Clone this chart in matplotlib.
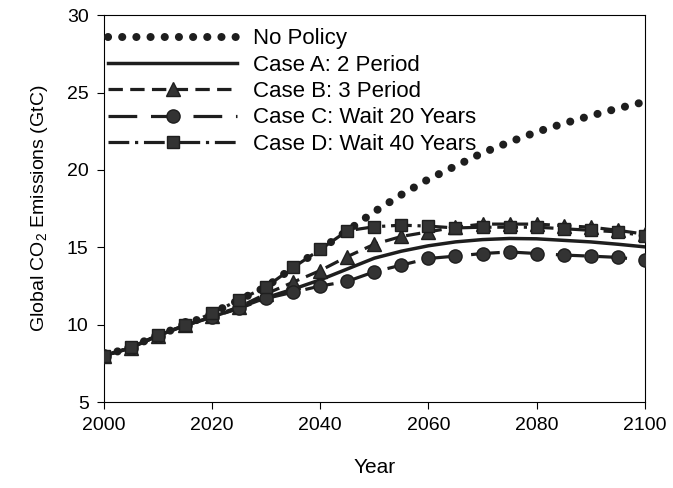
import matplotlib
matplotlib.use("Agg")
import matplotlib.pyplot as plt

plt.rcParams['font.family'] = ['Liberation Sans', 'DejaVu Sans']
plt.rcParams['mathtext.default'] = 'regular'

# years with 5-year steps
years = list(range(2000, 2101, 5))

no_policy = [8.0, 8.55, 9.33, 9.97, 10.75, 11.6, 12.45, 13.7, 14.86, 16.07, 17.3,
             18.4, 19.4, 20.25, 21.1, 21.8, 22.45, 23.0, 23.5, 23.97, 24.4]
case_a = [8.0, 8.5, 9.3, 9.95, 10.5, 11.1, 11.75, 12.3, 12.9, 13.6, 14.3,
          14.75, 15.1, 15.35, 15.5, 15.57, 15.55, 15.45, 15.35, 15.2, 15.03]
case_b = [8.0, 8.5, 9.3, 9.95, 10.55, 11.15, 12.0, 12.75, 13.5, 14.4, 15.2,
          15.7, 16.0, 16.3, 16.5, 16.5, 16.5, 16.4, 16.3, 16.1, 15.85]
case_c = [8.0, 8.5, 9.3, 9.95, 10.5, 11.05, 11.7, 12.1, 12.5, 12.8, 13.42,
          13.85, 14.28, 14.43, 14.6, 14.7, 14.6, 14.5, 14.43, 14.35, 14.17]
case_d = [8.0, 8.55, 9.33, 9.97, 10.75, 11.6, 12.45, 13.7, 14.86, 16.07, 16.33,
          16.43, 16.37, 16.25, 16.3, 16.3, 16.3, 16.2, 16.1, 16.0, 15.75]

labels = ['No Policy', 'Case A: 2 Period', 'Case B: 3 Period',
          'Case C: Wait 20 Years', 'Case D: Wait 40 Years']

ink = '#1e1e1e'
fs = 14

fig = plt.figure(figsize=(6.73, 4.88), dpi=100)
ax = fig.add_axes([0.1545, 0.176, 0.8035, 0.793])

# no policy: fat round dots
ax.plot(years, no_policy, color=ink, lw=5.8, linestyle=(0, (0.01, 1.75)),
        dash_capstyle='round', label=labels[0], zorder=2)
ax.plot(years, case_a, color=ink, lw=2.5, label=labels[1], zorder=3)
ax.plot(years, case_b, color=ink, lw=2.3, linestyle=(0, (4.5, 2.3)),
        marker='^', ms=9.5, mfc='#333333', mec=ink, label=labels[2], zorder=4)
ax.plot(years, case_c, color=ink, lw=2.3, linestyle=(0, (9, 4.3)),
        marker='o', ms=9.5, mfc='#333333', mec=ink, label=labels[3], zorder=4)
ax.plot(years, case_d, color=ink, lw=2.3, linestyle=(0, (6.5, 1.8, 1, 1.8)),
        marker='s', ms=9, mfc='#333333', mec=ink, label=labels[4], zorder=5)

ax.set_xlim(2000, 2100)
ax.set_ylim(5, 30)
ax.set_xticks(range(2000, 2101, 20))
ax.set_yticks(range(5, 31, 5))
ax.tick_params(direction='out', length=5, width=0.8, labelsize=fs, pad=6)
for s in ax.spines.values():
    s.set_linewidth(0.8)

ax.set_xlabel('Year', fontsize=fs + 1, labelpad=17)
ax.set_ylabel('Global CO$_2$ Emissions (GtC)', fontsize=fs, labelpad=12)

ax.legend(loc='upper left', frameon=False, fontsize=16, handlelength=5.8,
          handletextpad=0.7, labelspacing=0.24, numpoints=1,
          borderpad=0.1, borderaxespad=0.1, bbox_to_anchor=(0.0, 0.977))

plt.savefig('out.png', dpi=100)
